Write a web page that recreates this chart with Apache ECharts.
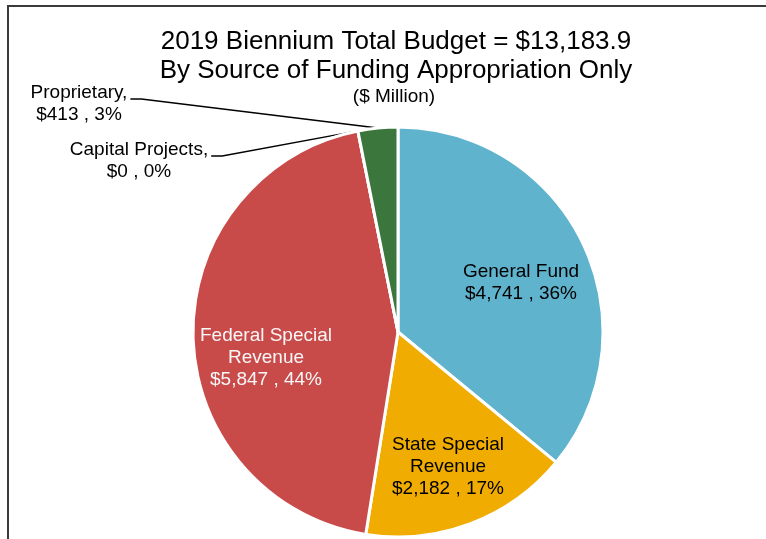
<!DOCTYPE html>
<html>
<head>
<meta charset="utf-8">
<script src="https://cdn.jsdelivr.net/npm/echarts@6/dist/echarts.min.js"></script>
<style>
  html, body { margin: 0; padding: 0; background: #ffffff; }
  #chart { width: 766px; height: 539px; }
</style>
</head>
<body>
<div id="chart"></div>
<script>
// Funding sources, in clockwise order from 12 o'clock ($ Million)
const categories = ['General Fund', 'State Special Revenue', 'Federal Special Revenue', 'Capital Projects', 'Proprietary'];
const values = [4741, 2182, 5847, 0, 413];
const colors = ['#5FB3CD', '#F0AC00', '#C84B4A', '#8064A2', '#3B763C'];
const titleLines = ['2019 Biennium Total Budget = $13,183.9', 'By Source of Funding Appropriation Only'];
const unitLabel = '($ Million)';

// Sources labelled outside the pie with a leader line
const outsideNames = ['Capital Projects', 'Proprietary'];
// Label centres for each source
const labelCenters = {
  'General Fund': [521, 283],
  'State Special Revenue': [448, 467],
  'Federal Special Revenue': [266, 358],
  'Capital Projects': [139, 161],
  'Proprietary': [79, 104]
};

const FONT = '"Liberation Sans", Arial, sans-serif';

const chart = echarts.init(document.getElementById('chart'), null, { renderer: 'canvas' });

function fmtMoney(v) {
  return '$' + v.toLocaleString('en-US');
}

const data = categories.map((name, i) => {
  const outside = outsideNames.indexOf(name) >= 0;
  return {
    name: name,
    value: values[i],
    itemStyle: { color: colors[i] },
    label: {
      position: outside ? 'outside' : 'inside',
      color: name === 'Federal Special Revenue' ? '#F7F7F7' : '#000000'
    },
    labelLine: { show: outside }
  };
});

chart.setOption({
  animation: false,
  backgroundColor: '#ffffff',
  graphic: [
    {
      type: 'rect',
      shape: { x: 8, y: 6, width: 820, height: 600 },
      style: { fill: 'none', stroke: '#3a3a3a', lineWidth: 2 },
      silent: true
    },
    {
      type: 'text',
      style: {
        text: titleLines.join('\n'),
        x: 396, y: 27,
        align: 'center', verticalAlign: 'top',
        font: '26px ' + FONT,
        lineHeight: 29,
        fill: '#000000'
      }
    },
    {
      type: 'text',
      style: {
        text: unitLabel,
        x: 394, y: 97,
        align: 'center', verticalAlign: 'middle',
        font: '19px ' + FONT,
        fill: '#000000'
      }
    }
  ],
  series: [{
    type: 'pie',
    center: [398, 332],
    radius: 205,
    startAngle: 90,
    clockwise: true,
    avoidLabelOverlap: false,
    minShowLabelAngle: 0,
    itemStyle: { borderColor: '#ffffff', borderWidth: 3 },
    label: {
      fontFamily: FONT,
      fontSize: 19,
      lineHeight: 22,
      align: 'center',
      formatter: function (p) {
        const pct = Math.round(p.percent) + '%';
        if (outsideNames.indexOf(p.name) >= 0) {
          return p.name + ',\n' + fmtMoney(p.value) + ' , ' + pct;
        }
        return p.name.replace(' Revenue', '\nRevenue') + '\n' + fmtMoney(p.value) + ' , ' + pct;
      }
    },
    labelLine: {
      lineStyle: { color: '#000000', width: 1.3 }
    },
    labelLayout: function (params) {
      const name = categories[params.dataIndex];
      const c = labelCenters[name];
      const out = { x: c[0], y: c[1], align: 'center', verticalAlign: 'middle' };
      if (outsideNames.indexOf(name) >= 0 && params.labelLinePoints) {
        const w = params.labelRect.width;
        const h = params.labelRect.height;
        const right = c[0] + w / 2 + 3;
        const yLine = c[1] - h / 2 + 17;
        out.labelLinePoints = [
          params.labelLinePoints[0],
          [right + 11, yLine],
          [right, yLine]
        ];
      }
      return out;
    },
    data: data
  }]
});
</script>
</body>
</html>
